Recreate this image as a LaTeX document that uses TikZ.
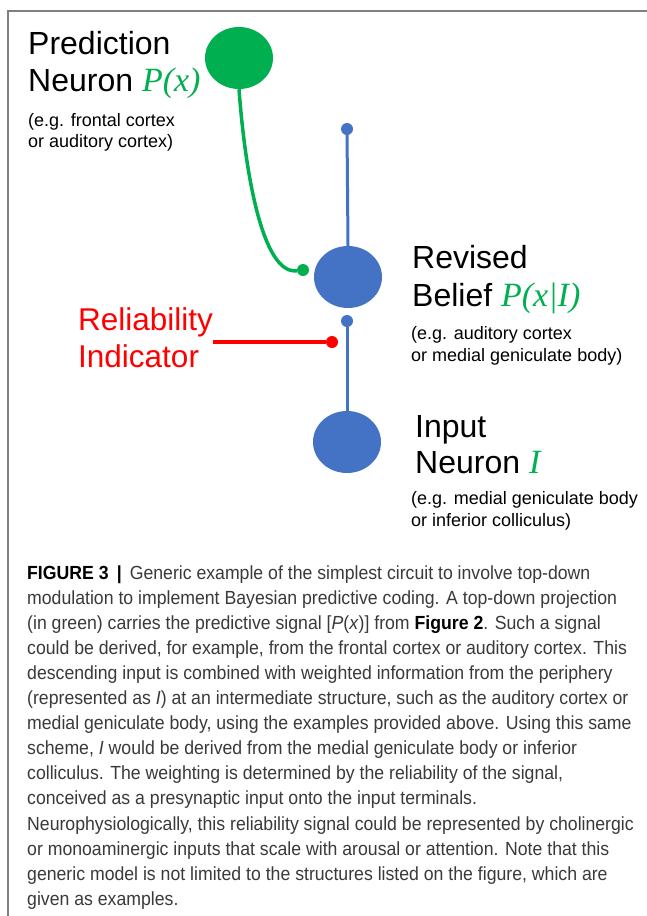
\documentclass[tikz,border=0pt]{standalone}
\usepackage{fontspec}
\setmainfont{Liberation Sans}
\newfontfamily\serifit{Liberation Serif}
\newfontfamily\capfont[FakeStretch=0.93]{Liberation Sans}
\usetikzlibrary{shapes.geometric}

\definecolor{neurogreen}{HTML}{00B050}
\definecolor{neuroblue}{HTML}{4472C4}
\definecolor{reliared}{HTML}{FF0000}
\definecolor{capgray}{HTML}{3A3A3A}

\tikzset{
    neuron/.style = {ellipse, minimum width = 68pt, minimum height = 62pt, inner sep = 0},
    knob/.style = {circle, minimum size = 12pt, inner sep = 0},
    big/.style = {anchor = base west, inner sep = 0, font = \fontsize{32}{32}\selectfont},
    small/.style = {anchor = base west, inner sep = 0, font = \fontsize{18}{18}\selectfont},
    caption/.style = {anchor = base west, inner sep = 0, text = capgray, font = \capfont\fontsize{19}{19}\selectfont}
}

\newcommand{\gsym}[1]{{\color{neurogreen}\serifit\itshape\fontsize{34}{34}\selectfont #1}}

\begin{document}
\begin{tikzpicture}[
        x = 1pt,
        y = -1pt
    ]
        \useasboundingbox (0, 0) rectangle (647, 916);
        \fill[white] (0, 0) rectangle (647, 916);
        \draw[gray, line width = 1.5pt] (647, 11) -| (8, 916);

        \node[neuron, fill = neurogreen] (pred) at (239, 58) {};
        \node[neuron, fill = neuroblue] (revised) at (348, 277) {};
        \node[neuron, fill = neuroblue] (input) at (347, 442) {};

        \node[knob, fill = neuroblue] (topknob) at (347, 129) {};
        \node[knob, fill = neuroblue] (midknob) at (347, 321) {};
        \node[knob, fill = reliared] (relknob) at (332, 342) {};
        \node[knob, fill = neurogreen] (predknob) at (303, 270) {};
        \coordinate (relstart) at (213, 342);

        \draw[neuroblue, line width = 3pt] (topknob) -- (revised.north);
        \draw[neuroblue, line width = 3pt] (midknob) -- (input.north);
        \draw[reliared, line width = 3.5pt] (relstart) -- (relknob);
        \draw[neurogreen, line width = 3.5pt] (pred.south) .. controls +(6, 81) and +(-41, 5) .. (predknob);

        \node[big] (predA) at (28, 54) {Prediction};
        \node[big] (predB) at (28, 91) {Neuron \gsym{P(x)}};
        \node[small] (predC) at (28, 126) {(e.g. frontal cortex};
        \node[small] (predD) at (28, 147) {or auditory cortex)};

        \node[big] (revA) at (412, 268) {Revised};
        \node[big] (revB) at (412, 306) {Belief \gsym{P(x|I)}};
        \node[small] (revC) at (411, 339) {(e.g. auditory cortex};
        \node[small] (revD) at (411, 361) {or medial geniculate body)};

        \node[big] (inA) at (415, 437) {Input};
        \node[big] (inB) at (415, 473) {Neuron \gsym{I}};
        \node[small] (inC) at (411, 504) {(e.g. medial geniculate body};
        \node[small] (inD) at (411, 526) {or inferior colliculus)};

        \node[big, text = reliared, font = \fontsize{31.5}{31.5}\selectfont] (relA) at (78, 330) {Reliability};
        \node[big, text = reliared, font = \fontsize{31.5}{31.5}\selectfont] (relB) at (78, 367) {Indicator};

        \foreach \txt [count = \i] in {
            {{\color{black}\textbf{FIGURE 3 \,|\,}} Generic example of the simplest circuit to involve top-down},
            {modulation to implement Bayesian predictive coding. A top-down projection},
            {(in green) carries the predictive signal [\textit{P}(\textit{x})] from {\color{black}\textbf{Figure 2}}. Such a signal},
            {could be derived, for example, from the frontal cortex or auditory cortex. This},
            {descending input is combined with weighted information from the periphery},
            {(represented as \textit{I}) at an intermediate structure, such as the auditory cortex or},
            {medial geniculate body, using the examples provided above. Using this same},
            {scheme, \textit{I} would be derived from the medial geniculate body or inferior},
            {colliculus. The weighting is determined by the reliability of the signal,},
            {conceived as a presynaptic input onto the input terminals.},
            {Neurophysiologically, this reliability signal could be represented by cholinergic},
            {or monoaminergic inputs that scale with arousal or attention. Note that this},
            {generic model is not limited to the structures listed on the figure, which are},
            {given as examples.}
        }
            \node[caption] (cap\i) at (27, 579 + 25.1 * \i - 25.1) {\txt};
    \end{tikzpicture}
\end{document}
